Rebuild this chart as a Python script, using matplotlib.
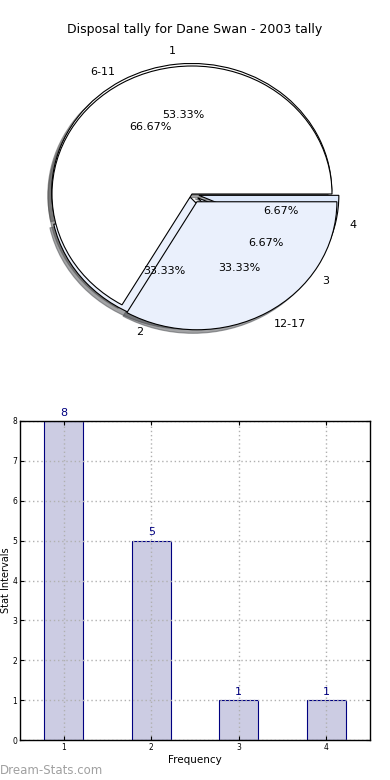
import matplotlib
matplotlib.use("Agg")
import matplotlib.pyplot as plt

title = "Disposal tally for Dane Swan - 2003 tally"
freq_labels = ["1", "2", "3", "4"]
freq_counts = [8, 5, 1, 1]
interval_labels = ["6-11", "12-17"]
interval_counts = [10, 5]

bar_x = [1, 2, 3, 4]
bar_vals = [8, 5, 1, 1]

W, H = 390, 780
fig = plt.figure(figsize=(W / 100, H / 100), dpi=100)

# Pie axes
ax1 = fig.add_axes([17 / W, 1 - 354 / H, 350 / W, 320 / H])
white = "#ffffff"
lblue = "#eaf0fc"
ax1.pie(freq_counts, labels=freq_labels, autopct="%.2f%%", shadow=True,
        explode=[0.02, 0.03, 0.05, 0.05],
        colors=[white, lblue, lblue, "#dde8fa"],
        wedgeprops=dict(edgecolor="black", linewidth=0.8),
        textprops=dict(fontsize=8), labeldistance=1.1, pctdistance=0.6)
ax1.pie(interval_counts, labels=interval_labels, autopct="%.2f%%", shadow=True,
        explode=[0, 0.07],
        colors=[white, lblue],
        wedgeprops=dict(edgecolor="black", linewidth=0.8),
        textprops=dict(fontsize=8), labeldistance=1.1, pctdistance=0.6)
ax1.set_aspect("auto")
ax1.set_xlim(-1.25, 1.25)
ax1.set_ylim(-1.25, 1.25)
ax1.axis("off")
fig.text(0.5, 1 - 30 / H, title, ha="center", va="center", fontsize=9)

# Bar axes
ax2 = fig.add_axes([20 / W, 1 - 740 / H, 350 / W, 319 / H])
bars = ax2.bar(bar_x, bar_vals, width=0.45, color="#ccccE3", edgecolor="#000080",
               linewidth=0.8, zorder=2)
for x, v in zip(bar_x, bar_vals):
    ax2.text(x, v + 0.08, str(v), ha="center", va="bottom", color="#000080", fontsize=8)
ax2.set_xlim(0.5, 4.5)
ax2.set_ylim(0, 8)
ax2.set_xticks(bar_x)
ax2.set_yticks(range(0, 9))
ax2.tick_params(labelsize=5.5, direction="in", top=True, right=True, length=3, pad=2)
ax2.grid(True, linestyle=(0, (1, 2)), color="#b0b0b0", linewidth=1, zorder=3)
ax2.set_axisbelow(False)
for s in ax2.spines.values():
    s.set_zorder(5)
    s.set_linewidth(1)
ax2.set_xlabel("Frequency", fontsize=7.5, labelpad=2)
ax2.set_ylabel("Stat Intervals", fontsize=7, labelpad=0)
ax2.yaxis.set_label_coords(-0.026, 0.5)

fig.text(0, 1 - 771 / H, "Dream-Stats.com", ha="left", va="center", fontsize=8.5,
         color="#a0a0a0")

fig.savefig("out.png", dpi=100)
